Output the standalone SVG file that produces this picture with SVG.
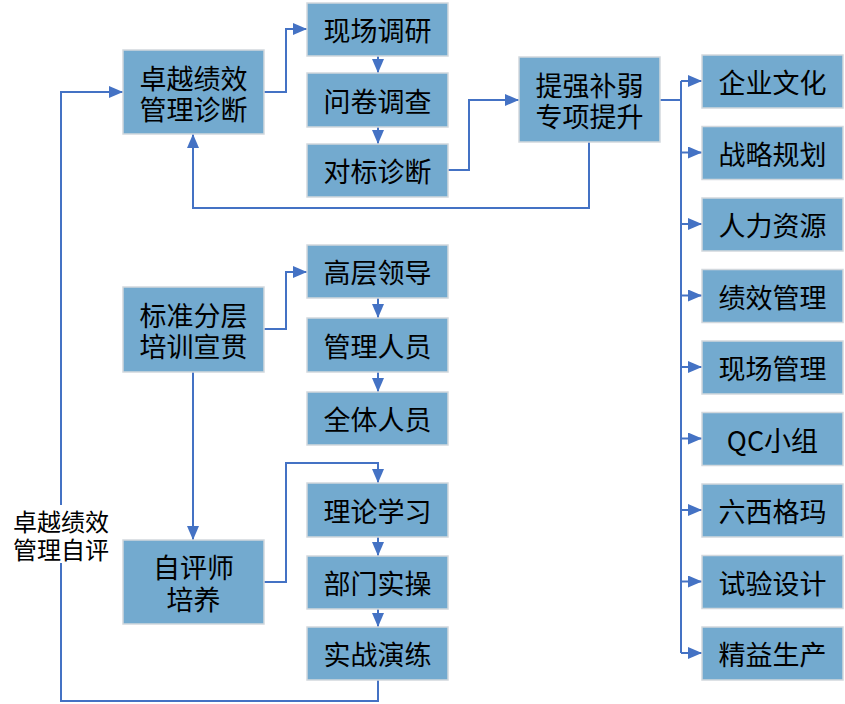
<svg xmlns="http://www.w3.org/2000/svg" width="845" height="704" viewBox="0 0 845 704">
<style>
.box{fill:#73AACF;stroke:#D2D8DD;stroke-width:1.5}
.t{font-family:"Noto Sans CJK SC","Microsoft YaHei",sans-serif;font-size:27px;fill:#000;text-anchor:middle;dominant-baseline:central}
.lbl{font-family:"Noto Sans CJK SC","Microsoft YaHei",sans-serif;font-size:24px;fill:#000;text-anchor:middle;dominant-baseline:central}
.c{fill:none;stroke:#4472C4;stroke-width:2}
.ca{fill:none;stroke:#4472C4;stroke-width:2;marker-end:url(#ah)}
</style>
<defs>
<marker id="ah" markerUnits="userSpaceOnUse" markerWidth="14" markerHeight="12" refX="14" refY="6" orient="auto">
<path d="M0,0 L14,6 L0,12 z" fill="#4472C4"/>
</marker>
</defs>
<rect width="845" height="704" fill="#fff"/>
<g id="connectors">
<path class="ca" d="M264,92 H286 V29 H307"/>
<path class="ca" d="M378,56 V73"/>
<path class="ca" d="M378,127 V144"/>
<path class="ca" d="M448,170 H469 V100 H519"/>
<path class="ca" d="M589,142 V208 H193 V134"/>
<path class="c" d="M660,100 H681"/>
<path class="c" d="M681,81 V653"/>
<path class="ca" d="M681,81 H702"/>
<path class="ca" d="M681,152.5 H702"/>
<path class="ca" d="M681,224 H702"/>
<path class="ca" d="M681,295.5 H702"/>
<path class="ca" d="M681,367 H702"/>
<path class="ca" d="M681,438.5 H702"/>
<path class="ca" d="M681,510 H702"/>
<path class="ca" d="M681,581.5 H702"/>
<path class="ca" d="M681,653 H702"/>
<path class="ca" d="M264,329 H286 V272 H307"/>
<path class="ca" d="M378,298 V318"/>
<path class="ca" d="M378,372 V392"/>
<path class="ca" d="M193,372 V540"/>
<path class="ca" d="M264,582 H286 V463 H378 V483"/>
<path class="ca" d="M378,537 V556"/>
<path class="ca" d="M378,609 V627"/>
<path class="c" d="M378,680 V701 H61 V563"/>
<path class="ca" d="M61,505 V92 H123"/>
</g>
<g id="label-selfeval">
<text class="lbl" x="61" y="520">卓越绩效</text>
<text class="lbl" x="61" y="548">管理自评</text>
</g>
<g id="n-diag"><rect class="box" x="123" y="50" width="141" height="84"/><text class="t" x="193.5" y="77">卓越绩效</text><text class="t" x="193.5" y="108">管理诊断</text></g>
<g id="n-xcdy"><rect class="box" x="307" y="3" width="141" height="53"/><text class="t" x="377.5" y="29.5">现场调研</text></g>
<g id="n-wjdc"><rect class="box" x="307" y="73" width="141" height="54"/><text class="t" x="377.5" y="100">问卷调查</text></g>
<g id="n-dbzd"><rect class="box" x="307" y="144" width="141" height="53"/><text class="t" x="377.5" y="170.5">对标诊断</text></g>
<g id="n-tq"><rect class="box" x="519" y="57" width="141" height="85"/><text class="t" x="589.5" y="84">提强补弱</text><text class="t" x="589.5" y="115">专项提升</text></g>
<g id="n-r1"><rect class="box" x="702" y="55" width="141" height="53"/><text class="t" x="772.5" y="81.5">企业文化</text></g>
<g id="n-r2"><rect class="box" x="702" y="126.5" width="141" height="53"/><text class="t" x="772.5" y="153">战略规划</text></g>
<g id="n-r3"><rect class="box" x="702" y="198" width="141" height="53"/><text class="t" x="772.5" y="224.5">人力资源</text></g>
<g id="n-r4"><rect class="box" x="702" y="269.5" width="141" height="53"/><text class="t" x="772.5" y="296">绩效管理</text></g>
<g id="n-r5"><rect class="box" x="702" y="341" width="141" height="53"/><text class="t" x="772.5" y="367.5">现场管理</text></g>
<g id="n-r6"><rect class="box" x="702" y="412.5" width="141" height="53"/><text class="t" x="772.5" y="439">QC小组</text></g>
<g id="n-r7"><rect class="box" x="702" y="484" width="141" height="53"/><text class="t" x="772.5" y="510.5">六西格玛</text></g>
<g id="n-r8"><rect class="box" x="702" y="555.5" width="141" height="53"/><text class="t" x="772.5" y="582">试验设计</text></g>
<g id="n-r9"><rect class="box" x="702" y="627" width="141" height="53"/><text class="t" x="772.5" y="653.5">精益生产</text></g>
<g id="n-train"><rect class="box" x="123" y="287" width="141" height="85"/><text class="t" x="193.5" y="314">标准分层</text><text class="t" x="193.5" y="345">培训宣贯</text></g>
<g id="n-gcld"><rect class="box" x="307" y="245" width="141" height="53"/><text class="t" x="377.5" y="271.5">高层领导</text></g>
<g id="n-glry"><rect class="box" x="307" y="318" width="141" height="54"/><text class="t" x="377.5" y="345">管理人员</text></g>
<g id="n-qtry"><rect class="box" x="307" y="392" width="141" height="53"/><text class="t" x="377.5" y="418.5">全体人员</text></g>
<g id="n-zps"><rect class="box" x="123" y="540" width="141" height="84"/><text class="t" x="193.5" y="566">自评师</text><text class="t" x="193.5" y="598">培养</text></g>
<g id="n-llxx"><rect class="box" x="307" y="483" width="141" height="54"/><text class="t" x="377.5" y="510">理论学习</text></g>
<g id="n-bmsc"><rect class="box" x="307" y="556" width="141" height="53"/><text class="t" x="377.5" y="582.5">部门实操</text></g>
<g id="n-szyl"><rect class="box" x="307" y="627" width="141" height="53"/><text class="t" x="377.5" y="653.5">实战演练</text></g>
</svg>
